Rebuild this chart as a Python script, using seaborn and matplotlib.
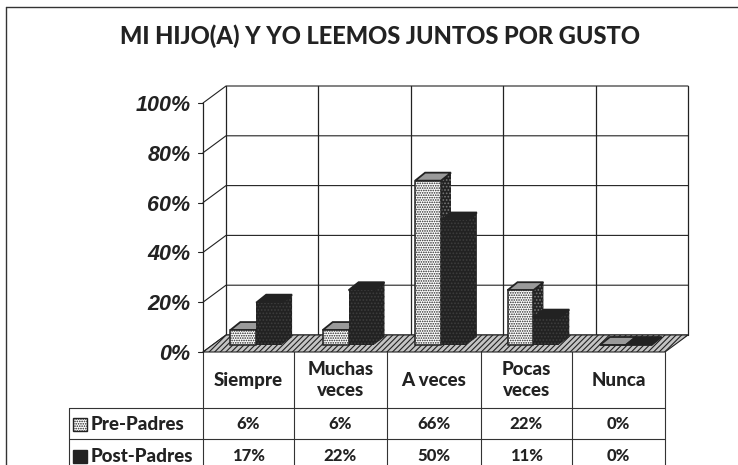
"""
Pre/post reading survey chart, drawn as a fake 3D bar chart with a data table.
"""
import matplotlib
matplotlib.use('Agg')
import matplotlib.pyplot as plt
from matplotlib.patches import Polygon, Rectangle
import pandas as pd
import seaborn as sns

TITLE = 'MI HIJO(A) Y YO LEEMOS JUNTOS POR GUSTO'
categories = ['Siempre', 'Muchas\nveces', 'A veces', 'Pocas\nveces', 'Nunca']
pre_padres = [6, 6, 66, 22, 0]
post_padres = [17, 22, 50, 11, 0]
y_ticks = [0, 20, 40, 60, 80, 100]

W, H = 738, 465
PX_X = 92.4        # pixels per category
PX_Y = 2.49        # pixels per percent
WALL_DX, WALL_DY = 23 / PX_X, 17 / PX_Y
BAR_DX, BAR_DY = 10 / PX_X, 8 / PX_Y
INK = '#222222'
TABLE_FONT = 'Lato'

sns.set_style('white')
plt.rcParams['hatch.linewidth'] = 0.8


def axes_at(fig, left, top, right, bottom):
    """Add an axes given its box in image pixels."""
    return fig.add_axes([left / W, 1 - bottom / H, (right - left) / W, (bottom - top) / H])


def draw_walls(ax):
    """Back wall, side wall and hatched floor in the data units of the chart."""
    for tick in y_ticks:
        ax.plot([-0.5, -0.5 + WALL_DX, 4.5 + WALL_DX],
                [tick, tick + WALL_DY, tick + WALL_DY],
                color=INK, lw=0.8, clip_on=False, zorder=1)
        ax.plot([-0.5, -0.5 - 0.05], [tick, tick], color=INK, lw=0.8, clip_on=False)
    for i in range(len(categories) + 1):
        x = -0.5 + i + WALL_DX
        ax.plot([x, x], [WALL_DY, 100 + WALL_DY], color=INK, lw=0.9, clip_on=False, zorder=1)
    ax.plot([-0.5, -0.5], [0, 100], color=INK, lw=0.9, clip_on=False, zorder=1)
    floor = [(-0.5, 0), (4.5, 0), (4.5 + WALL_DX, WALL_DY), (-0.5 + WALL_DX, WALL_DY)]
    ax.add_patch(Polygon(floor, closed=True, facecolor='#c4c4c4', edgecolor=INK,
                         hatch='//////', lw=0.8, clip_on=False, zorder=2))


def add_depth(ax, bars, top_color, side_color, hatch_color):
    """Add the top and side faces behind each seaborn bar."""
    for bar in bars:
        x0, x1 = bar.get_x(), bar.get_x() + bar.get_width()
        h = bar.get_height()
        z = bar.get_zorder() - 0.01
        top = [(x0, h), (x1, h), (x1 + BAR_DX, h + BAR_DY), (x0 + BAR_DX, h + BAR_DY)]
        # start a hair inside the front face so no seam shows between them
        side = [(x1 - 0.01, 0), (x1 - 0.01, h), (x1 + BAR_DX, h + BAR_DY), (x1 + BAR_DX, BAR_DY)]
        ax.add_patch(Polygon(side, closed=True, facecolor=side_color, edgecolor=hatch_color,
                             hatch='.....', lw=0, clip_on=False, zorder=z))
        ax.add_patch(Polygon(top, closed=True, facecolor=top_color, edgecolor=INK,
                             lw=1.3, clip_on=False, zorder=z))


def draw_bars(ax):
    """Draw both series with seaborn, then dress them up as 3D columns."""
    data = pd.DataFrame({
        'categoria': categories * 2,
        'valor': pre_padres + post_padres,
        'grupo': ['Pre-Padres'] * 5 + ['Post-Padres'] * 5,
    })
    sns.barplot(data=data, x='categoria', y='valor', hue='grupo', order=categories,
                palette=['white', INK], width=0.56, gap=0, saturation=1, legend=False, ax=ax)
    pre_bars, post_bars = ax.containers[0], ax.containers[1]
    for bar in pre_bars:
        bar.set(hatch='.......', edgecolor=INK, linewidth=1.1, zorder=3, clip_on=False)
    for bar in post_bars:
        bar.set(hatch='.....', edgecolor='#3d3d3d', linewidth=0, zorder=5, clip_on=False)
    add_depth(ax, pre_bars, '#9a9a9a', INK, '#777777')
    add_depth(ax, post_bars, INK, INK, '#3d3d3d')


def draw_table(page):
    """Draw the data table and legend keys under the chart."""
    lines = [
        ([69, 665], [408, 408]), ([69, 665], [439, 439]), ([69, 69], [408, 465]),
        ([203, 203], [352, 465]), ([294, 294], [352, 465]), ([387, 387], [352, 465]),
        ([481, 481], [352, 465]), ([572, 572], [352, 465]), ([665, 665], [352, 465]),
    ]
    for xs, ys in lines:
        page.plot(xs, ys, color='#333333', lw=0.8)
    centers = [248.5, 340.5, 434, 526.5, 618.5]
    for cx, name, pre, post in zip(centers, categories, pre_padres, post_padres):
        page.text(cx, 380, name, ha='center', va='center', fontsize=13.5, weight=900,
                  family=TABLE_FONT, color=INK, linespacing=1.35)
        page.text(cx, 424, f'{pre}%', ha='center', va='center', fontsize=12, weight=900,
                  family=TABLE_FONT, color=INK)
        page.text(cx, 456, f'{post}%', ha='center', va='center', fontsize=12, weight=900,
                  family=TABLE_FONT, color=INK)
    page.add_patch(Rectangle((73, 418), 14, 13, facecolor='white', edgecolor=INK,
                             hatch='.......', lw=1.0))
    page.add_patch(Rectangle((73, 450), 14, 13, facecolor=INK, edgecolor=INK, lw=1.0))
    page.text(91, 424, 'Pre-Padres', va='center', fontsize=13.5, weight=900,
              family=TABLE_FONT, color=INK)
    page.text(91, 456, 'Post-Padres', va='center', fontsize=13.5, weight=900,
              family=TABLE_FONT, color=INK)


fig = plt.figure(figsize=(W / 100, H / 100), dpi=100, facecolor='white')

# page layer in pixel units: frame, title and table
page = axes_at(fig, 0, 0, W, H)
page.set_xlim(0, W)
page.set_ylim(H, 0)
page.axis('off')
page.plot([6, 6], [7, H], color='#333333', lw=1.0)
page.plot([6, W], [7, 7], color='#333333', lw=1.0)
page.text(380, 36, TITLE, ha='center', va='center', fontsize=17, weight=900,
          family=TABLE_FONT, color=INK)
draw_table(page)

# chart layer, front plane of the box
ax = axes_at(fig, 203, 103, 665, 352)
ax.patch.set_alpha(0)
ax.set_xlim(-0.5, 4.5)
ax.set_ylim(0, 100)
draw_walls(ax)
ax.set_xticks([])
ax.set_yticks(y_ticks)
ax.set_yticklabels([f'{t}%' for t in y_ticks], family='Liberation Sans', weight='bold',
                   style='italic', fontsize=15.5, color=INK)
ax.tick_params(axis='y', length=0, pad=9)
sns.despine(ax=ax, left=True, bottom=True)

# bars sit a little inside the floor depth, so they get their own shifted layer
bar_ax = axes_at(fig, 210, 96, 672, 345)
bar_ax.patch.set_alpha(0)
draw_bars(bar_ax)
bar_ax.set_xlim(-0.5, 4.5)
bar_ax.set_ylim(0, 100)
bar_ax.axis('off')

fig.savefig('out.png', dpi=100)
